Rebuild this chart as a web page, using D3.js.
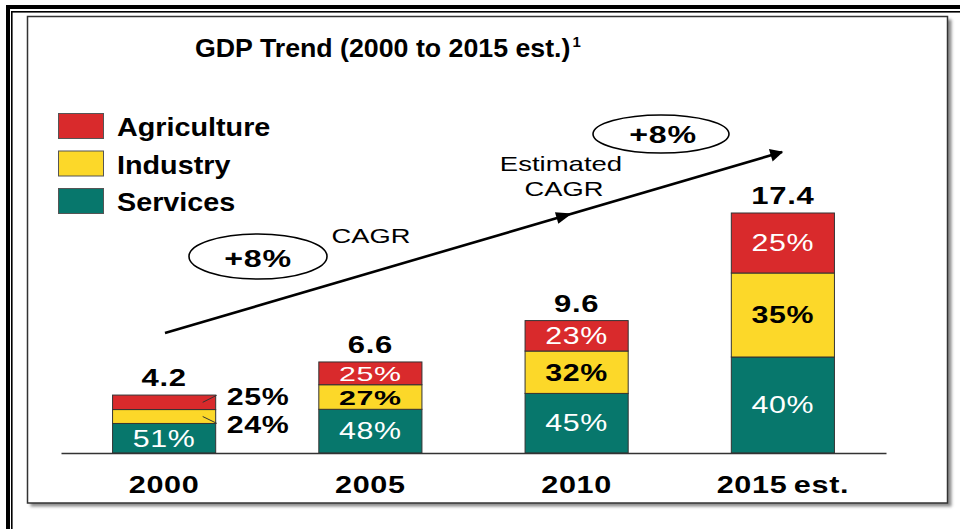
<!DOCTYPE html>
<html>
<head>
<meta charset="utf-8">
<script src="https://cdn.jsdelivr.net/npm/d3@7"></script>
<style>
  html, body { margin: 0; padding: 0; background: #fff; }
  svg { display: block; }
  text { font-family: "Liberation Sans", Arial, Helvetica, sans-serif; }
</style>
</head>
<body>
<svg id="chart" width="960" height="529"></svg>
<script>
// ---------------- data ----------------
const categories   = ["2000", "2005", "2010", "2015 est."];
const totals       = [4.2, 6.6, 9.6, 17.4];
const servicesPct  = [51, 48, 45, 40];
const industryPct  = [24, 27, 32, 35];
const agriculturePct = [25, 25, 23, 25];
const seriesKeys   = ["services", "industry", "agriculture"];
const legendNames  = ["Agriculture", "Industry", "Services"];
const titleText    = "GDP Trend (2000 to 2015 est.)";
const cagrLeft     = "+8%";
const cagrRight    = "+8%";

// ---------------- setup ----------------
const svg = d3.select("#chart");
const colors = { agriculture: "#d92a2c", industry: "#fcd829", services: "#07776c" };
const legendColor = { "Agriculture": colors.agriculture, "Industry": colors.industry, "Services": colors.services };

const defs = svg.append("defs");
const f = defs.append("filter").attr("id", "shadow").attr("x", "-5%").attr("y", "-5%").attr("width", "110%").attr("height", "110%");
f.append("feGaussianBlur").attr("stdDeviation", 1.6);

const ah = defs.append("marker").attr("id", "arrowhead").attr("viewBox", "0 0 10 10")
  .attr("refX", 9).attr("refY", 5).attr("markerWidth", 6).attr("markerHeight", 5)
  .attr("markerUnits", "strokeWidth").attr("orient", "auto");
ah.append("path").attr("d", "M0,0L10,5L0,10z").attr("fill", "#000");

// ---------------- frame ----------------
svg.append("rect").attr("x", 0).attr("y", 0).attr("width", 960).attr("height", 529).attr("fill", "#fff");
svg.append("rect").attr("x", 6).attr("y", 5).attr("width", 954).attr("height", 4).attr("fill", "#000");
svg.append("rect").attr("x", 6).attr("y", 5).attr("width", 4).attr("height", 524).attr("fill", "#000");
svg.append("rect").attr("x", 11).attr("y", 11).attr("width", 949).attr("height", 1.6).attr("fill", "#000");
svg.append("rect").attr("x", 11).attr("y", 11).attr("width", 1.6).attr("height", 518).attr("fill", "#000");
svg.append("rect").attr("x", 30.5).attr("y", 19.5).attr("width", 921).attr("height", 487)
  .attr("fill", "#8a8a8a").attr("filter", "url(#shadow)");
svg.append("rect").attr("x", 27.5).attr("y", 16.5).attr("width", 920).attr("height", 486.5)
  .attr("fill", "#fff").attr("stroke", "#333").attr("stroke-width", 1.5);

// ---------------- scales ----------------
const x = d3.scaleBand().domain(categories).range([61, 886]).paddingInner(0.5).paddingOuter(0.25);
const y = d3.scaleLinear().domain([0, d3.max(totals)]).range([453, 213]);

const rows = categories.map((c, i) => ({
  cat: c,
  total: totals[i],
  services: totals[i] * servicesPct[i] / 100,
  industry: totals[i] * industryPct[i] / 100,
  agriculture: totals[i] * agriculturePct[i] / 100,
  pct: { services: servicesPct[i], industry: industryPct[i], agriculture: agriculturePct[i] }
}));
const stacked = d3.stack().keys(seriesKeys)(rows);

function stxt(g, px, py, str, o) {
  const t = g.append("text")
    .attr("transform", `translate(${px},${py}) scale(${o.sx || 1},1)`)
    .attr("text-anchor", o.anchor || "middle")
    .attr("font-size", o.fs)
    .attr("font-weight", o.fw || "bold")
    .attr("fill", o.fill || "#000")
    .text(str);
  if (o.ls) t.attr("letter-spacing", o.ls);
  if (o.ws) t.attr("word-spacing", o.ws);
  return t;
}

// ---------------- title ----------------
const title = svg.append("text")
  .attr("transform", "translate(195,57) scale(1.07,1)")
  .attr("font-size", 25).attr("font-weight", "bold").attr("fill", "#000");
title.append("tspan").text(titleText);
title.append("tspan").attr("font-size", 14).attr("dy", -10).attr("dx", 2).text("1");

// ---------------- legend ----------------
const lg = svg.append("g");
legendNames.forEach((n, i) => {
  const yy = 113 + i * 37.5;
  lg.append("rect").attr("x", 58.5).attr("y", yy + 0.5).attr("width", 45).attr("height", 25)
    .attr("fill", legendColor[n]).attr("stroke", "#555").attr("stroke-width", 1);
  stxt(lg, 117, yy + 23, n, { fs: 25, sx: 1.15, anchor: "start" });
});

// ---------------- CAGR arrow ----------------
const ar = svg.append("g");
const p0 = [165, 333], p1 = [782, 152];
ar.append("line").attr("x1", p0[0]).attr("y1", p0[1]).attr("x2", p1[0]).attr("y2", p1[1])
  .attr("stroke", "#000").attr("stroke-width", 2.6).attr("marker-end", "url(#arrowhead)");
const midX = 572, midY = p0[1] + (p1[1] - p0[1]) * (midX - p0[0]) / (p1[0] - p0[0]);
const ang = Math.atan2(p1[1] - p0[1], p1[0] - p0[0]) * 180 / Math.PI;
ar.append("path").attr("d", "M0,0L-16,-6L-16,6z").attr("fill", "#000")
  .attr("transform", `translate(${midX},${midY}) rotate(${ang})`);

ar.append("ellipse").attr("cx", 258).attr("cy", 256.5).attr("rx", 69).attr("ry", 22.5)
  .attr("fill", "none").attr("stroke", "#000").attr("stroke-width", 1.6);
stxt(ar, 258, 267, cagrLeft, { fs: 23, sx: 1.4, ls: 0.5 });
stxt(ar, 371, 243, "CAGR", { fs: 21, sx: 1.3, fw: "normal" });

ar.append("ellipse").attr("cx", 661).attr("cy", 134).attr("rx", 68).attr("ry", 19)
  .attr("fill", "none").attr("stroke", "#000").attr("stroke-width", 1.6);
stxt(ar, 663, 143, cagrRight, { fs: 23, sx: 1.4, ls: 0.5 });
stxt(ar, 561, 171, "Estimated", { fs: 21, sx: 1.31, fw: "normal" });
stxt(ar, 564, 196, "CAGR", { fs: 21, sx: 1.3, fw: "normal" });

// ---------------- bars ----------------
const bars = svg.append("g");
stacked.forEach(layer => {
  bars.selectAll(null).data(layer).join("rect")
    .attr("x", d => x(d.data.cat))
    .attr("width", x.bandwidth())
    .attr("y", d => y(d[1]))
    .attr("height", d => y(d[0]) - y(d[1]))
    .attr("fill", colors[layer.key])
    .attr("stroke", "#333").attr("stroke-width", 1);
});

// segment labels
const labG = svg.append("g");
rows.forEach(r => {
  let lastOutsideY = null;
  const bx1 = x(r.cat) + x.bandwidth();
  ["agriculture", "industry", "services"].forEach(k => {
    const layer = stacked.find(s => s.key === k);
    const d = layer.find(e => e.data.cat === r.cat);
    const top = y(d[1]), bot = y(d[0]);
    const h = bot - top, cy = (top + bot) / 2;
    const isBlack = k === "industry";
    const str = r.pct[k] + "%";
    if (h >= 20) {
      const fs = h < 26 ? 21 : 23;
      stxt(labG, x(r.cat) + x.bandwidth() / 2, cy + fs * 0.36, str,
        { fs: fs, sx: 1.32 * 23 / fs, ls: 0.5, fw: isBlack ? "bold" : "normal", fill: isBlack ? "#000" : "#fff" });
    } else {
      const ly = lastOutsideY === null ? cy - 5 : lastOutsideY + 28;
      lastOutsideY = ly;
      labG.append("line").attr("x1", bx1 - 13).attr("y1", cy).attr("x2", bx1 + 1).attr("y2", ly - 2)
        .attr("stroke", "#333").attr("stroke-width", 1);
      stxt(labG, bx1 + 11, ly + 8, str, { fs: 23, sx: 1.32, ls: 0.5, anchor: "start" });
    }
  });
  stxt(labG, x(r.cat) + x.bandwidth() / 2, y(r.total) - 9, String(r.total), { fs: 23, sx: 1.35, ls: 0.5 });
});

// ---------------- axis ----------------
const axis = svg.append("g").attr("transform", "translate(0,453)")
  .call(d3.axisBottom(x).tickSize(0).tickSizeOuter(0));
axis.select(".domain").attr("stroke", "#333").attr("stroke-width", 1.6);
axis.selectAll(".tick text")
  .attr("y", 40).attr("dy", 0)
  .attr("font-family", "'Liberation Sans', Arial, sans-serif")
  .attr("font-size", 23).attr("font-weight", "bold").attr("fill", "#000")
  .attr("letter-spacing", 0.5).attr("word-spacing", -2)
  .attr("transform", "scale(1.33,1)");
</script>
</body>
</html>
